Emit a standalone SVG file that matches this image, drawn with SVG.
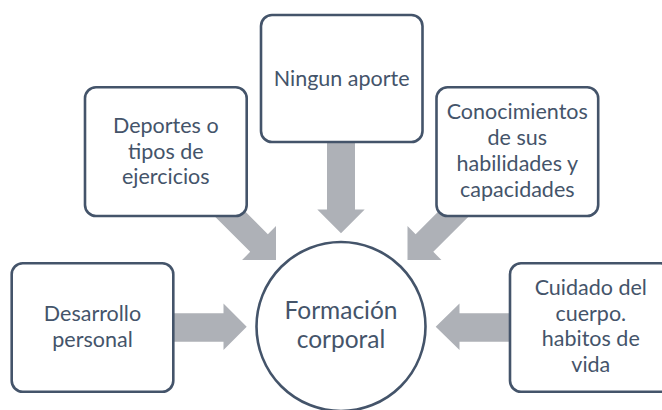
<svg xmlns="http://www.w3.org/2000/svg" width="662" height="410" viewBox="0 0 662 410">
<style>
.box{fill:#ffffff;stroke:#44546A;stroke-width:2.6}
.arr{fill:#AEB1B7;stroke:none}
.t{font-family:Lato,"Open Sans","Liberation Sans",sans-serif;font-size:21.5px;fill:#44546A;text-anchor:middle}
.tc{font-family:Lato,"Open Sans","Liberation Sans",sans-serif;font-size:24.5px;fill:#44546A;text-anchor:middle}
</style>
<rect width="662" height="410" fill="#ffffff"/>
<g id="connectors">
<polygon class="arr" points="327,135 355,135 355,209.5 364.7,209.5 341,233.3 317.3,209.5 327,209.5"/>
<polygon class="arr" points="165,313.3 223.5,313.3 223.5,303.5 246.7,326.8 223.5,350 223.5,341.7 165,341.7"/>
<polygon class="arr" points="518,313.3 459.5,313.3 459.5,303.5 435.7,326.8 459.5,350 459.5,341.7 518,341.7"/>
<polygon class="arr" transform="translate(276,260) rotate(45)" points="-85,-12.5 -24,-12.5 -24,-24 0,0 -24,24 -24,12.5 -85,12.5"/>
<polygon class="arr" transform="translate(407.5,260) rotate(135)" points="-85,-12.5 -24,-12.5 -24,-24 0,0 -24,24 -24,12.5 -85,12.5"/>
</g>
<g id="ningun">
<rect class="box" x="261" y="15" width="161.5" height="127" rx="11"/>
<text class="t" x="341.7" y="86">Ningun aporte</text>
</g>
<g id="deportes">
<rect class="box" x="85" y="87.3" width="161.7" height="128.7" rx="11"/>
<text class="t" x="165.8" y="133">Deportes o</text>
<text class="t" x="165.8" y="158.6">tipos de</text>
<text class="t" x="165.8" y="184.2">ejercicios</text>
</g>
<g id="conocimientos">
<rect class="box" x="436.5" y="87.3" width="161.7" height="128.7" rx="11"/>
<text class="t" x="517.3" y="119.4">Conocimientos</text>
<text class="t" x="517.3" y="145.1">de sus</text>
<text class="t" x="517.3" y="170.8">habilidades y</text>
<text class="t" x="517.3" y="196.5">capacidades</text>
</g>
<g id="desarrollo">
<rect class="box" x="11.7" y="263.3" width="161.6" height="128.4" rx="11"/>
<text class="t" x="92.5" y="321">Desarrollo</text>
<text class="t" x="92.5" y="346.7">personal</text>
</g>
<g id="cuidado">
<rect class="box" x="510" y="263.3" width="161.6" height="128.4" rx="11"/>
<text class="t" x="590.8" y="295">Cuidado del</text>
<text class="t" x="590.8" y="320.6">cuerpo.</text>
<text class="t" x="590.8" y="346.2">habitos de</text>
<text class="t" x="590.8" y="371.8">vida</text>
</g>
<g id="formacion">
<circle class="box" cx="341" cy="326.5" r="84.5"/>
<text class="tc" x="341" y="319.3">Formación</text>
<text class="tc" x="341" y="348.3">corporal</text>
</g>
</svg>
